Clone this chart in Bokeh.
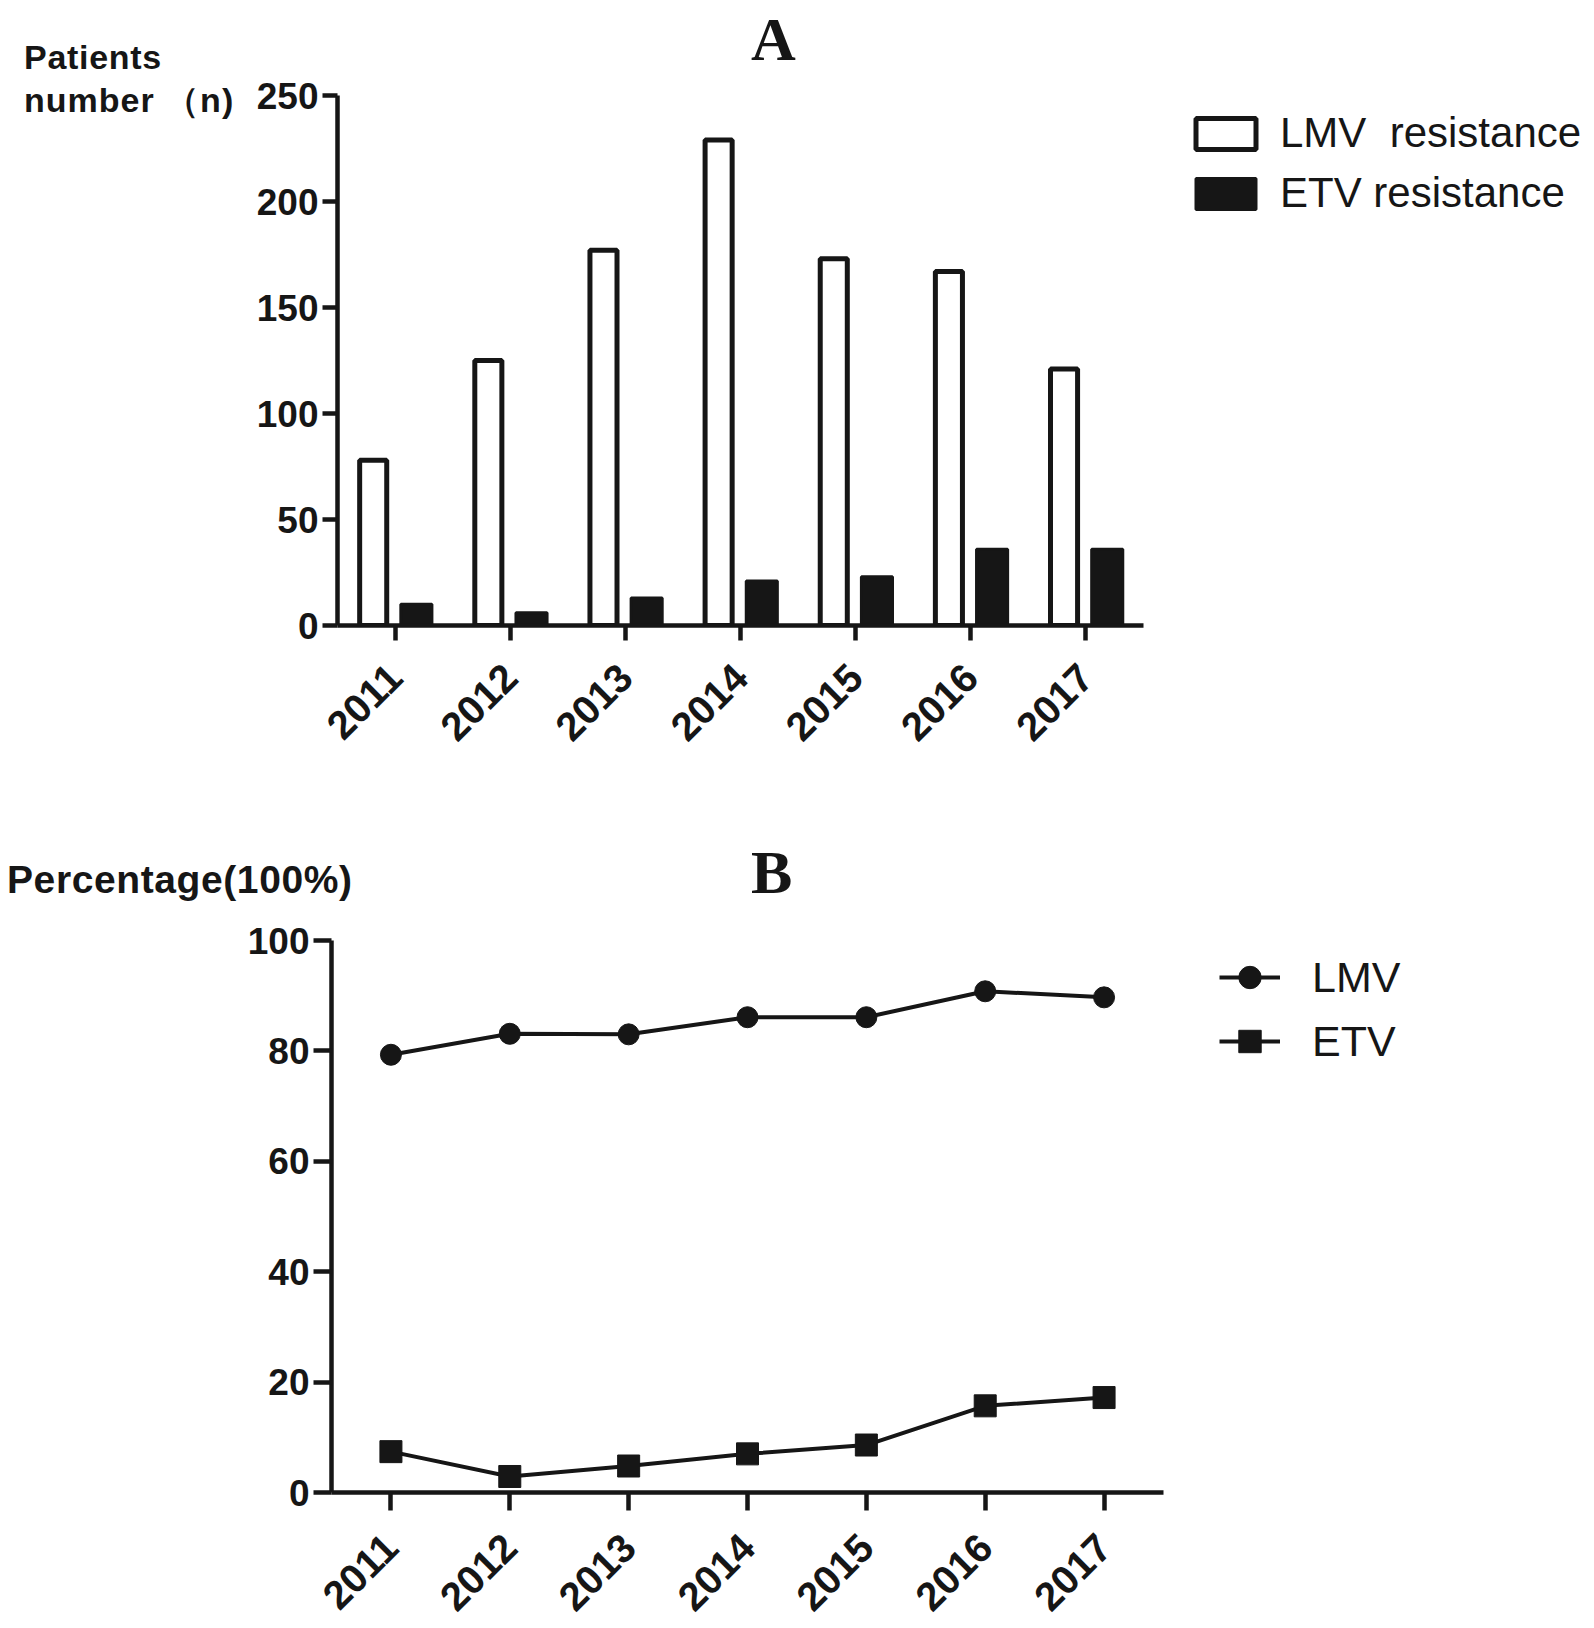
from math import pi
from bokeh.plotting import figure
from bokeh.layouts import column, row
from bokeh.models import (FactorRange, Range1d, FixedTicker, Legend, LegendItem,
                          ColumnDataSource, Div)
from bokeh.transform import dodge
from bokeh.embed import file_html
from bokeh.resources import INLINE

# ---- data ----
years = ["2011", "2012", "2013", "2014", "2015", "2016", "2017"]
lmv_patients = [78, 125, 177, 229, 173, 167, 121]
etv_patients = [10, 6, 13, 21, 23, 36, 36]
lmv_percent = [79.3, 83.1, 83.0, 86.1, 86.1, 90.8, 89.7]
etv_percent = [7.4, 2.9, 4.8, 7.0, 8.6, 15.7, 17.2]
count_ticks = [0, 50, 100, 150, 200, 250]
percent_ticks = [0, 20, 40, 60, 80, 100]

INK = "#161616"
SANS = "Liberation Sans"
SERIF = "Liberation Serif"
PAGE_W = 1594


def span(text, left, top, font, size, spacing=0):
    return ('<span style="position:absolute;white-space:pre;left:%dpx;top:%.1fpx;'
            "font-family:'%s';font-weight:bold;font-size:%dpx;line-height:1;"
            'letter-spacing:%.1fpx;color:%s">%s</span>'
            % (left, top, font, size, spacing, INK, text))


def text_box(width, height, spans):
    html = ('<div style="position:relative;width:%dpx;height:%dpx;margin:0;padding:0">%s</div>'
            % (width, height, "".join(spans)))
    return Div(text=html, width=width, height=height, margin=0)


def style_axes(p, ticks, tick_out):
    for ax in (p.xaxis[0], p.yaxis[0]):
        ax.axis_line_width = 4.5
        ax.axis_line_color = INK
        ax.major_tick_line_width = 4.5
        ax.major_tick_line_color = INK
        ax.major_tick_out = tick_out
        ax.major_tick_in = 0
        ax.minor_tick_line_color = None
        ax.major_label_text_font = SANS
        ax.major_label_text_font_style = "bold"
        ax.major_label_text_color = INK
    p.yaxis[0].major_label_text_font_size = "37px"
    p.xaxis[0].major_label_text_font_size = "40px"
    p.yaxis[0].ticker = FixedTicker(ticks=ticks)
    p.yaxis[0].major_label_standoff = 4
    p.xaxis[0].major_label_orientation = pi / 4
    p.xaxis[0].major_label_standoff = 30
    p.xgrid.visible = False
    p.ygrid.visible = False
    p.outline_line_color = None


# ================= Panel A =================
leftA = text_box(250, 800, [
    span("Patients", 24, 40.2, SANS, 34, 0.7),
    span("number （n)", 24, 83.2, SANS, 34, 1.0),
])
topA = text_box(1344, 74, [
    span("A", 501, 8.1, SERIF, 62),
])

pA = figure(x_range=FactorRange(*years), y_range=Range1d(0, 250),
            frame_width=806, frame_height=530,
            min_border_left=87, min_border_right=451,
            min_border_top=21, min_border_bottom=175,
            toolbar_location=None, output_backend="svg", title=None)
style_axes(pA, count_ticks, 15)

srcA = ColumnDataSource(dict(year=years, lmv=lmv_patients, etv=etv_patients))
rA1 = pA.vbar(x=dodge("year", -0.19, range=pA.x_range), top="lmv", bottom=0,
              width=0.235, fill_color="white", line_color=INK, line_width=5,
              source=srcA)
rA2 = pA.vbar(x=dodge("year", 0.185, range=pA.x_range), top="etv", bottom=0,
              width=0.27, fill_color=INK, line_color=INK, line_width=3,
              source=srcA)

legA = Legend(items=[LegendItem(label="LMV\u00a0 resistance", renderers=[rA1]),
                     LegendItem(label="ETV resistance", renderers=[rA2])],
              location=(45, 407), orientation="vertical",
              glyph_width=75, glyph_height=39, label_height=50, spacing=10,
              label_standoff=17, padding=0, margin=0,
              border_line_color=None, background_fill_alpha=0,
              label_text_font=SANS, label_text_font_size="42px",
              label_text_color=INK)
pA.add_layout(legA, "right")

# ================= Panel B =================
topB = text_box(PAGE_W, 108, [
    span("Percentage(100%)", 7, 60.0, SANS, 39, 0.6),
    span("B", 751, 41.1, SERIF, 62),
])

pB = figure(x_range=FactorRange(*years), y_range=Range1d(0, 100),
            frame_width=832, frame_height=552,
            min_border_left=331, min_border_right=431,
            min_border_top=32, min_border_bottom=128,
            toolbar_location=None, output_backend="svg", title=None)
style_axes(pB, percent_ticks, 18)

srcB = ColumnDataSource(dict(year=years, lmv=lmv_percent, etv=etv_percent))
lB1 = pB.line(x="year", y="lmv", line_color=INK, line_width=4, source=srcB)
mB1 = pB.scatter(x="year", y="lmv", marker="circle", size=21, fill_color=INK,
                 line_color=INK, source=srcB)
lB2 = pB.line(x="year", y="etv", line_color=INK, line_width=4, source=srcB)
mB2 = pB.scatter(x="year", y="etv", marker="square", size=22, fill_color=INK,
                 line_color=INK, source=srcB)

legB = Legend(items=[LegendItem(label="LMV", renderers=[lB1, mB1]),
                     LegendItem(label="ETV", renderers=[lB2, mB2])],
              location=(56, 423), orientation="vertical",
              glyph_width=61, glyph_height=56, label_height=56, spacing=8,
              label_standoff=32, padding=0, margin=0,
              border_line_color=None, background_fill_alpha=0,
              label_text_font=SANS, label_text_font_size="43px",
              label_text_color=INK)
pB.add_layout(legB, "right")

layout = column(row(leftA, column(topA, pA, spacing=0), spacing=0), topB, pB, spacing=0)
open("out.html", "w").write(file_html(layout, INLINE))
